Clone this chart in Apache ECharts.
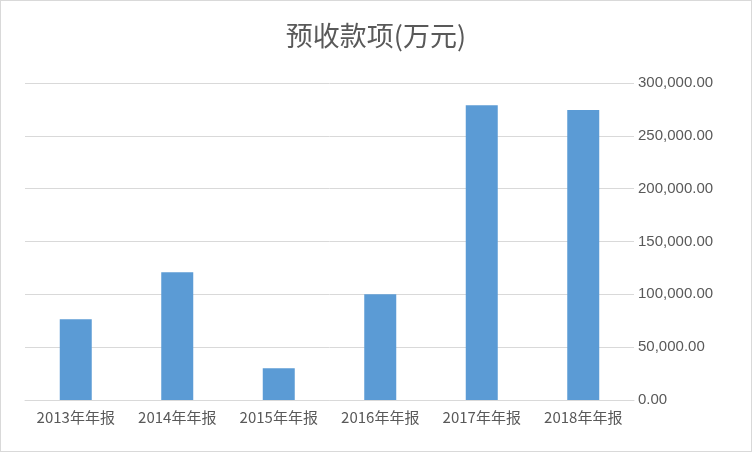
<!DOCTYPE html>
<html><head><meta charset="utf-8">
<script src="https://cdn.jsdelivr.net/npm/echarts@6/dist/echarts.min.js"></script>
<style>html,body{margin:0;padding:0;background:#fff}#c{width:752px;height:452px;box-sizing:border-box;border:1px solid #d9d9d9}</style>
</head><body><div id="c"></div>
<script>
var categories = ['2013年年报','2014年年报','2015年年报','2016年年报','2017年年报','2018年年报'];
var values = [76500, 121000, 30000, 100000, 279000, 274500];
var chart = echarts.init(document.getElementById('c'));
chart.setOption({
  animation:false,
  title:{text:'预收款项(万元)',left:'center',top:16,textStyle:{fontFamily:'Noto Sans CJK SC',fontWeight:'normal',fontSize:27,color:'#595959'}},
  grid:{left:24,right:117,top:82,bottom:51},
  xAxis:{type:'category',data:categories,axisTick:{show:false},
    axisLine:{lineStyle:{color:'#d9d9d9'}},
    axisLabel:{interval:0,color:'#595959',fontSize:15,fontFamily:'Noto Sans CJK SC',margin:10}},
  yAxis:{type:'value',position:'right',min:0,max:300000,interval:50000,
    axisLine:{show:false},axisTick:{show:false},
    splitLine:{lineStyle:{color:'#d9d9d9'}},
    axisLabel:{color:'#595959',fontSize:15,fontFamily:'Liberation Sans',margin:4,
      formatter:function(v){return v.toLocaleString('en-US',{minimumFractionDigits:2,maximumFractionDigits:2});}}},
  series:[{type:'bar',data:values,barWidth:32,itemStyle:{color:'#5B9BD5'}}]
});
</script></body></html>
